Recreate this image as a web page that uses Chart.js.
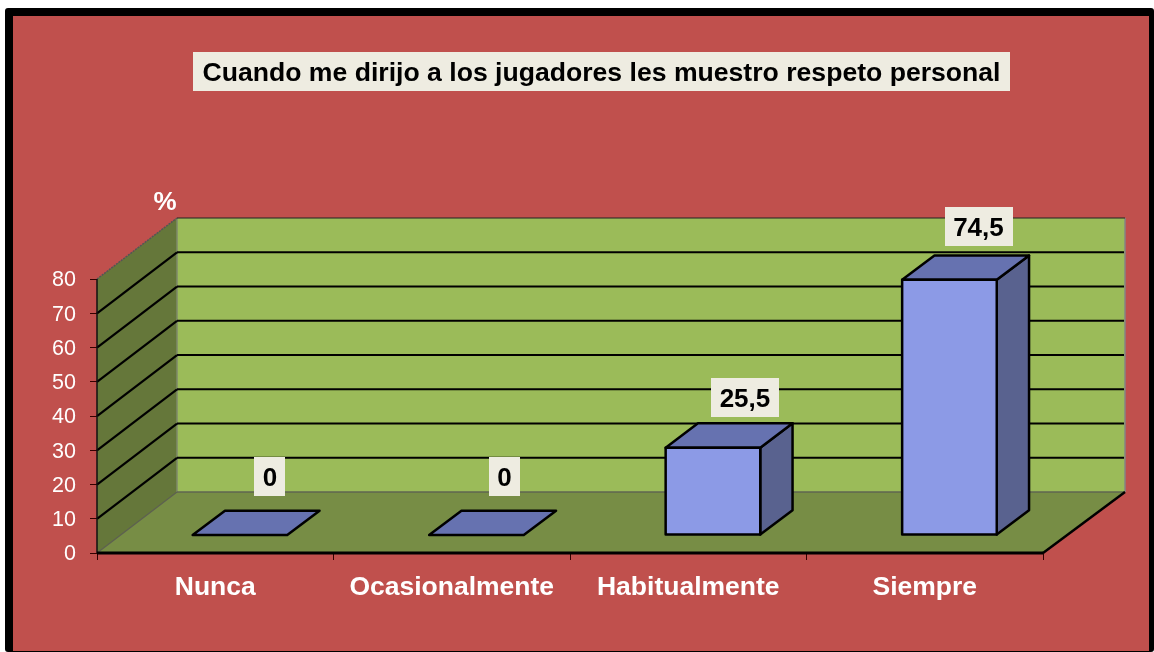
<!DOCTYPE html>
<html lang="es">
<head>
<meta charset="utf-8">
<title>Respeto personal</title>
<script src="https://cdn.jsdelivr.net/npm/chart.js@4"></script>
<style>html,body{margin:0;padding:0;background:#fff}canvas{display:block}</style>
</head>
<body>
<canvas id="c" width="1154" height="652"></canvas>
<script>
const titleText = "Cuando me dirijo a los jugadores les muestro respeto personal";
const categories = ["Nunca", "Ocasionalmente", "Habitualmente", "Siempre"];
const percentages = [0, 0, 25.5, 74.5];
const unitLabel = "%";

// styling and 3D projection constants
const FONT = '"Liberation Sans", Arial, sans-serif';
const WALL_DX = 80, WALL_DX_R = 82, WALL_DY = -61;
const BAR_SHIFT_X = 24.7, BAR_SHIFT_Y = -18, BAR_DX = 32.3, BAR_DY = -24.3;
const LABEL_NUDGE = [[30, -59], [28, -59], [32, -50.5], [29, -53.5]];
const CREAM = "#EEECE1";

function poly(ctx, pts, fill, stroke, lw) {
  ctx.beginPath();
  pts.forEach((p, i) => i ? ctx.lineTo(p[0], p[1]) : ctx.moveTo(p[0], p[1]));
  ctx.closePath();
  if (fill) { ctx.fillStyle = fill; ctx.fill(); }
  if (stroke) { ctx.strokeStyle = stroke; ctx.lineWidth = lw; ctx.lineJoin = "round"; ctx.stroke(); }
}
function line(ctx, x0, y0, x1, y1, color, lw, dash) {
  ctx.save();
  ctx.beginPath(); ctx.moveTo(x0, y0); ctx.lineTo(x1, y1);
  ctx.strokeStyle = color; ctx.lineWidth = lw;
  if (dash) ctx.setLineDash(dash);
  ctx.stroke(); ctx.restore();
}

const scene3d = {
  id: "scene3d",
  afterLayout(chart) {
    chart.titleBlock.left += 80; chart.titleBlock.right += 80;
  },
  beforeDraw(chart) {
    const ctx = chart.ctx;
    ctx.save();
    ctx.fillStyle = "#fff"; ctx.fillRect(0, 0, 1154, 652);
    ctx.fillStyle = "#000";
    ctx.beginPath(); ctx.roundRect(5, 8, 1149, 644, 3); ctx.fill();
    ctx.fillStyle = "#C0504D"; ctx.fillRect(13, 16, 1136, 635);
    ctx.fillStyle = CREAM; ctx.fillRect(193, 52, 817, 39);
    ctx.restore();
  },
  beforeDatasetsDraw(chart) {
    const ctx = chart.ctx, y = chart.scales.y, a = chart.chartArea;
    const L = a.left, R = a.right, T = y.getPixelForValue(y.max), B = y.getPixelForValue(0);
    const bL = L + WALL_DX, bR = R + WALL_DX_R, bT = T + WALL_DY, bB = B + WALL_DY;
    ctx.save();
    poly(ctx, [[bL, bT], [bR, bT], [bR, bB], [bL, bB]], "#9BBB59");
    poly(ctx, [[L, T], [bL, bT], [bL, bB], [L, B]], "#65773A");
    poly(ctx, [[L, B], [bL, bB], [bR, bB], [R, B]], "#778D45");
    line(ctx, bL, bT, bL, bB, "#7f8a6a", 1.5);
    line(ctx, bR, bT, bR, bB, "#858585", 1.5);
    line(ctx, bL, bB, bR, bB, "#5f6650", 1.5);
    line(ctx, L, B, bL, bB, "#5c6150", 1.2);
    line(ctx, L, T, bL, bT, "#555", 1.5, [2, 1]);
    line(ctx, bL, bT, bR, bT, "#222", 1.2);
    y.ticks.forEach(t => {
      if (t.value === 0 || t.value === y.max) return;
      const p = y.getPixelForValue(t.value);
      line(ctx, L, p, bL, p + WALL_DY, "#000", 2.2);
      line(ctx, bL, p + WALL_DY, bR - 1, p + WALL_DY, "#000", 2.2);
    });
    line(ctx, L, T, L, B, "#111", 1.5);
    line(ctx, L, B, R, B, "#000", 3);
    line(ctx, R, B, bR, bB, "#000", 2.5);

    ctx.translate(BAR_SHIFT_X, BAR_SHIFT_Y);
    chart.getDatasetMeta(0).data.forEach(bar => {
      const l = bar.x - bar.width / 2, r = bar.x + bar.width / 2, t = bar.y, b = bar.base;
      if (b - t > 0.5) {
        poly(ctx, [[r, t], [r + BAR_DX, t + BAR_DY], [r + BAR_DX, b + BAR_DY], [r, b]], "#59628F", "#000", 2.5);
      }
      poly(ctx, [[l, t], [l + BAR_DX, t + BAR_DY], [r + BAR_DX, t + BAR_DY], [r, t]], "#6672B0", "#000", 2.5);
    });
  },
  afterDatasetsDraw(chart) {
    const ctx = chart.ctx;
    chart.getDatasetMeta(0).data.forEach(bar => {
      if (bar.base - bar.y > 0.5) {
        ctx.strokeStyle = "#000"; ctx.lineWidth = 2.5; ctx.lineJoin = "round";
        ctx.strokeRect(bar.x - bar.width / 2, bar.y, bar.width, bar.base - bar.y);
      }
    });
    ctx.restore();
    ctx.save();
    ctx.textAlign = "center"; ctx.textBaseline = "middle";
    ctx.font = "bold 26px " + FONT;
    chart.getDatasetMeta(0).data.forEach((bar, i) => {
      const text = String(percentages[i]).replace(".", ",");
      const cx = bar.x + BAR_SHIFT_X + LABEL_NUDGE[i][0];
      const cy = bar.y + BAR_SHIFT_Y + LABEL_NUDGE[i][1];
      const w = ctx.measureText(text).width + 17;
      ctx.fillStyle = CREAM;
      ctx.fillRect(Math.round(cx - w / 2), Math.round(cy - 19.5), Math.round(w), 39);
      ctx.fillStyle = "#000";
      ctx.fillText(text, cx, cy + 2.5);
    });
    ctx.fillStyle = "#fff";
    ctx.fillText(unitLabel, chart.chartArea.left + 68, chart.chartArea.top - 76);
    ctx.restore();
  }
};

new Chart(document.getElementById("c"), {
  type: "bar",
  data: {
    labels: categories,
    datasets: [{
      data: percentages,
      backgroundColor: "#8C9AE6",
      borderWidth: 0,
      barPercentage: 0.4,
      categoryPercentage: 1,
      clip: false
    }]
  },
  options: {
    responsive: false,
    animation: false,
    events: [],
    layout: { padding: { left: 0, right: 111, top: 0, bottom: 0 } },
    plugins: {
      legend: { display: false },
      tooltip: { enabled: false },
      title: {
        display: true,
        text: titleText,
        color: "#000",
        font: { family: FONT, size: 26.6, weight: "bold", lineHeight: 1.2 },
        padding: { top: 57.5, bottom: 189.6 }
      }
    },
    scales: {
      x: {
        afterFit(s) { s.height = 99; },
        border: { display: false },
        grid: { display: true, drawOnChartArea: false, drawTicks: true, tickLength: 7, color: "#300", lineWidth: 1 },
        ticks: { color: "#fff", padding: 12, maxRotation: 0, font: { family: FONT, size: 26.5, weight: "bold" } }
      },
      y: {
        min: 0,
        max: 80,
        afterFit(s) { s.width = 97; },
        border: { display: false },
        grid: { display: true, drawOnChartArea: false, drawTicks: true, tickLength: 7, color: "#300", lineWidth: 1 },
        ticks: { stepSize: 10, color: "#fff", padding: 14, labelOffset: 1.5, font: { family: FONT, size: 21.5 } }
      }
    }
  },
  plugins: [scene3d]
});
</script>
</body>
</html>
